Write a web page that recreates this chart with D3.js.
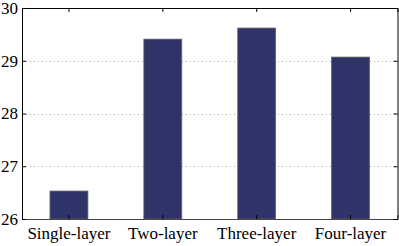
<!DOCTYPE html>
<html>
<head>
<meta charset="utf-8">
<script src="https://cdn.jsdelivr.net/npm/d3@7"></script>
<style>
  body { margin: 0; background: #fff; }
  svg { display: block; }
  text { font-family: "Liberation Serif", "DejaVu Serif", serif; }
</style>
</head>
<body>
<div class="visualization"></div>
<script>
const categories = ["Single-layer", "Two-layer", "Three-layer", "Four-layer"];
const values = [26.53, 29.41, 29.62, 29.07];
const yTicks = [26, 27, 28, 29, 30];

const width = 399, height = 246;
const margin = { top: 8, right: 1.5, bottom: 27, left: 22 };

const svg = d3.select(".visualization")
  .append("svg")
  .attr("width", width)
  .attr("height", height);

const xScale = d3.scaleBand()
  .domain(categories)
  .range([margin.left, width - margin.right])
  .paddingInner(0.596)
  .paddingOuter(0.298);

const yScale = d3.scaleLinear()
  .domain([26, 30])
  .range([height - margin.bottom, margin.top]);

const x0 = margin.left, x1 = width - margin.right;
const y0 = height - margin.bottom, y1 = margin.top;

// dotted grid
svg.append("g")
  .selectAll("line")
  .data(yTicks.filter(d => d > 26 && d < 30))
  .enter().append("line")
  .attr("x1", x0).attr("x2", x1)
  .attr("y1", d => Math.round(yScale(d)) + 0.5)
  .attr("y2", d => Math.round(yScale(d)) + 0.5)
  .attr("stroke", "#aaa")
  .attr("stroke-width", 1)
  .attr("stroke-dasharray", "1,3");

// bars
svg.append("g")
  .selectAll(".bar")
  .data(values)
  .enter().append("rect")
  .attr("class", "bar")
  .attr("x", (d, i) => xScale(categories[i]))
  .attr("y", d => yScale(d))
  .attr("width", xScale.bandwidth())
  .attr("height", d => yScale(26) - yScale(d))
  .attr("fill", "#2f3468")
  .attr("stroke", "#666")
  .attr("stroke-width", 0.8);

// axes (ticks inward, box around plot)
const xAxisBottom = d3.axisBottom(xScale).tickSize(-4).tickPadding(8);
const xAxisTop = d3.axisTop(xScale).tickSize(-4).tickFormat("");
const yAxisLeft = d3.axisLeft(yScale).tickValues(yTicks).tickFormat(d3.format("d")).tickSize(-4).tickPadding(4);
const yAxisRight = d3.axisRight(yScale).tickValues(yTicks).tickSize(-4).tickFormat("");

function style(g) {
  g.select(".domain").attr("stroke", "#000").attr("stroke-width", 1);
  g.selectAll(".tick line").attr("stroke", "#000");
  g.selectAll("text")
    .attr("fill", "#000")
    .style("font-family", "'Liberation Serif', serif")
    .style("font-size", "17px");
}

svg.append("g")
  .attr("transform", `translate(0, ${y0})`)
  .call(xAxisBottom)
  .call(style)
  .call(g => g.select(".domain").attr("stroke", "#444"));

svg.append("g")
  .attr("transform", `translate(0, ${y1})`)
  .call(xAxisTop)
  .call(style);

svg.append("g")
  .attr("transform", `translate(${x0}, 0)`)
  .call(yAxisLeft)
  .call(style);

svg.append("g")
  .attr("transform", `translate(${x1}, 0)`)
  .call(yAxisRight)
  .call(style);
</script>
</body>
</html>
